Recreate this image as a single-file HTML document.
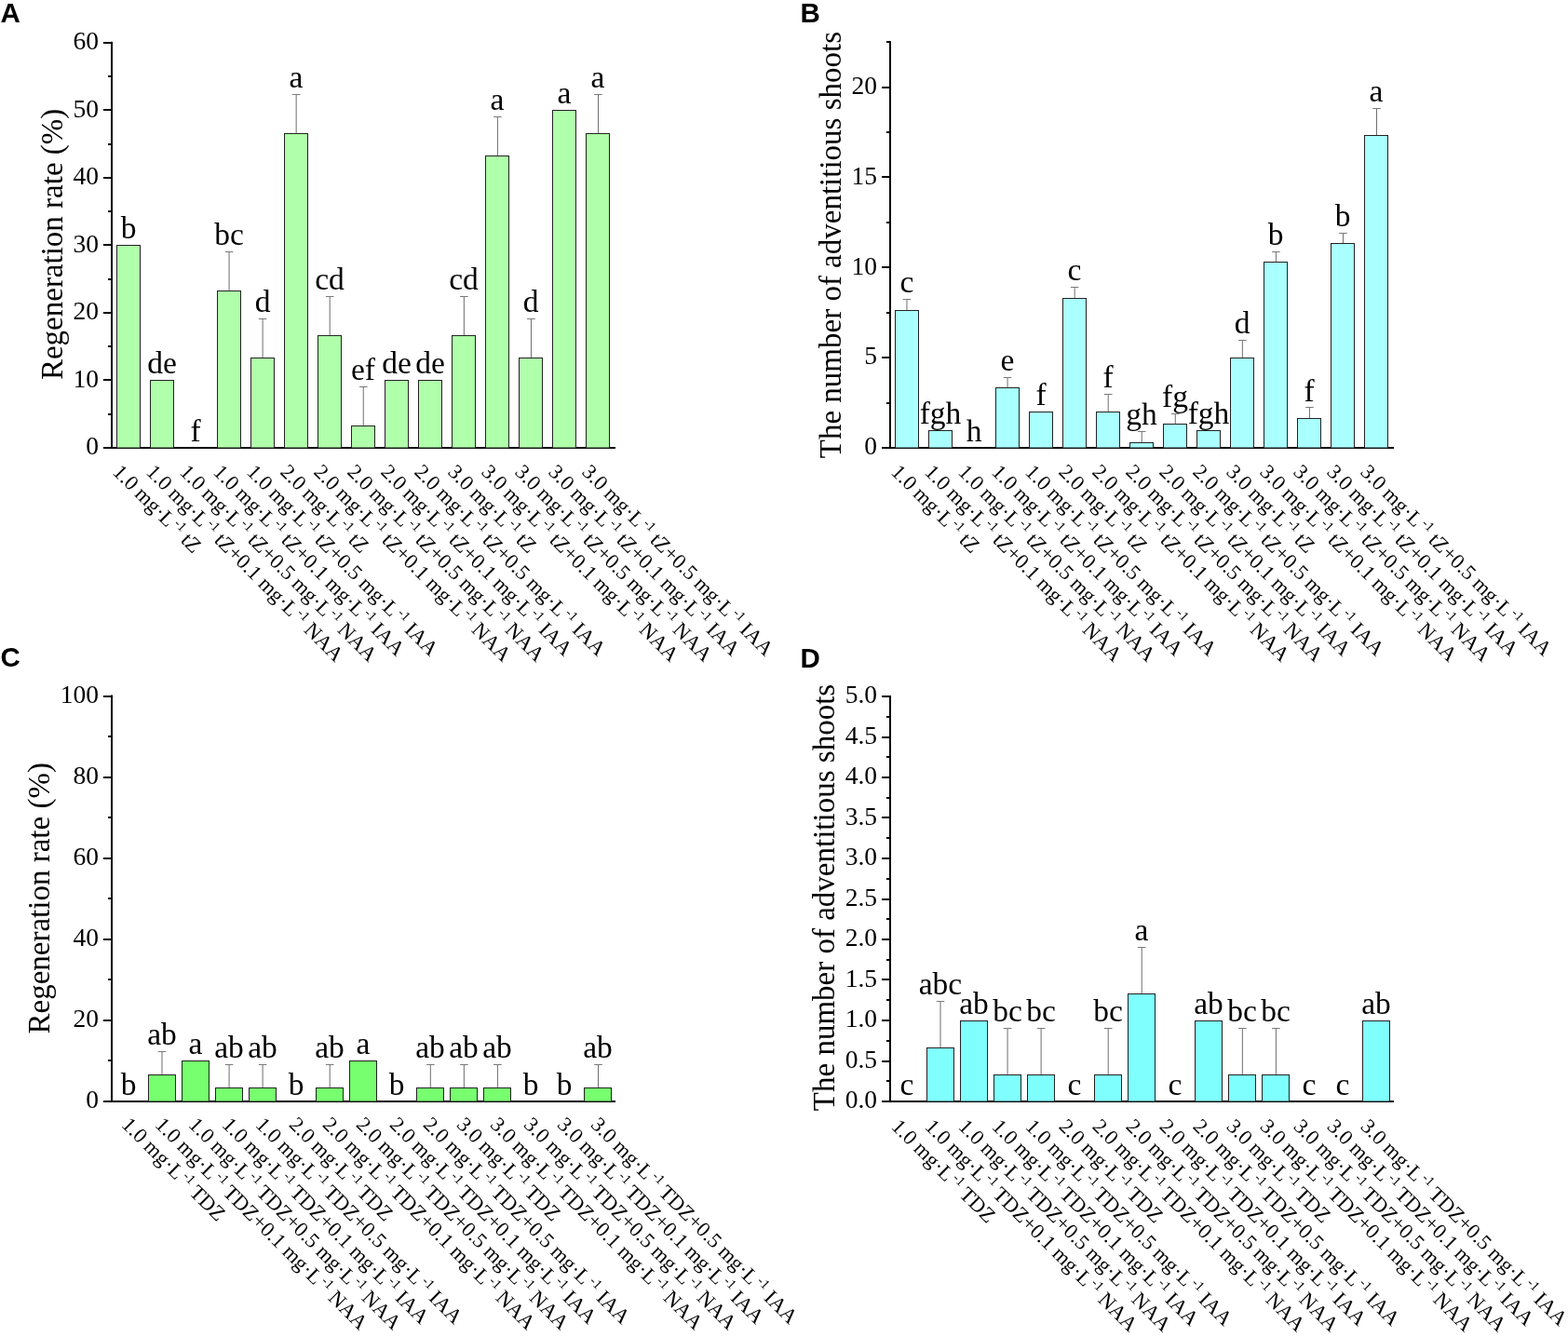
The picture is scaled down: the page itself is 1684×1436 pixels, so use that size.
<!DOCTYPE html>
<html><head><meta charset="utf-8"><style>
html,body{margin:0;padding:0;background:#fff;}
svg{display:block;}
text{font-family:"Liberation Serif","Times New Roman",serif;fill:#000;}
.pl{font-family:"Liberation Sans",Arial,sans-serif;font-weight:bold;font-size:29.5px;}
.tk{font-size:27.5px;text-anchor:end;}
.tt{font-size:33px;text-anchor:middle;}
.lt{font-size:33.5px;text-anchor:middle;}
.xl{font-size:22.5px;}
</style></head><body>
<svg width="1684" height="1436" viewBox="0 0 1684 1436">
<rect width="1684" height="1436" fill="#fff"/>
<text x="0.5" y="24.4" class="pl">A</text>
<rect x="119" y="44.8" width="2" height="437.2" fill="#000"/>
<rect x="111" y="480" width="550" height="2" fill="#000"/>
<rect x="111" y="480" width="9" height="2" fill="#000"/>
<text x="106" y="488.30" class="tk">0</text>
<rect x="111" y="407" width="9" height="2" fill="#000"/>
<text x="106" y="415.77" class="tk">10</text>
<rect x="111" y="335" width="9" height="2" fill="#000"/>
<text x="106" y="343.23" class="tk">20</text>
<rect x="111" y="262" width="9" height="2" fill="#000"/>
<text x="106" y="270.70" class="tk">30</text>
<rect x="111" y="190" width="9" height="2" fill="#000"/>
<text x="106" y="198.17" class="tk">40</text>
<rect x="111" y="117" width="9" height="2" fill="#000"/>
<text x="106" y="125.63" class="tk">50</text>
<rect x="111" y="45" width="9" height="2" fill="#000"/>
<text x="106" y="53.10" class="tk">60</text>
<rect x="116" y="444" width="4" height="2" fill="#000"/>
<rect x="116" y="371" width="4" height="2" fill="#000"/>
<rect x="116" y="299" width="4" height="2" fill="#000"/>
<rect x="116" y="226" width="4" height="2" fill="#000"/>
<rect x="116" y="154" width="4" height="2" fill="#000"/>
<rect x="116" y="81" width="4" height="2" fill="#000"/>
<text transform="translate(66.5,262.4) rotate(-90)" class="tt">Regeneration rate (%)</text>
<rect x="125.5" y="263.5" width="25" height="217.5" fill="#b0ffaa" stroke="#222" stroke-width="1"/>
<text x="138" y="256.40" class="lt">b</text>
<text transform="translate(120,508) rotate(45)" class="xl">1.0 mg·L<tspan dx="2" dy="-8" font-size="14.5">-1</tspan><tspan dy="8"> tZ</tspan></text>
<rect x="161.5" y="408.5" width="25" height="72.5" fill="#b0ffaa" stroke="#222" stroke-width="1"/>
<text x="174" y="401.47" class="lt">de</text>
<text transform="translate(156,508) rotate(45)" class="xl">1.0 mg·L<tspan dx="2" dy="-8" font-size="14.5">-1</tspan><tspan dy="8"> tZ+0.1 mg·L</tspan><tspan dx="2" dy="-8" font-size="14.5">-1</tspan><tspan dy="8"> NAA</tspan></text>
<text x="210" y="474.00" class="lt">f</text>
<text transform="translate(192,508) rotate(45)" class="xl">1.0 mg·L<tspan dx="2" dy="-8" font-size="14.5">-1</tspan><tspan dy="8"> tZ+0.5 mg·L</tspan><tspan dx="2" dy="-8" font-size="14.5">-1</tspan><tspan dy="8"> NAA</tspan></text>
<rect x="233.5" y="312.5" width="25" height="168.5" fill="#b0ffaa" stroke="#222" stroke-width="1"/>
<rect x="245.57" y="270" width="1" height="42" fill="#6e6e6e"/>
<rect x="241.77" y="270" width="8.6" height="1" fill="#7a7a7a"/>
<text x="246" y="262.90" class="lt">bc</text>
<text transform="translate(228,508) rotate(45)" class="xl">1.0 mg·L<tspan dx="2" dy="-8" font-size="14.5">-1</tspan><tspan dy="8"> tZ+0.1 mg·L</tspan><tspan dx="2" dy="-8" font-size="14.5">-1</tspan><tspan dy="8"> IAA</tspan></text>
<rect x="269.5" y="384.5" width="25" height="96.5" fill="#b0ffaa" stroke="#222" stroke-width="1"/>
<rect x="281.61" y="342" width="1" height="42" fill="#6e6e6e"/>
<rect x="277.81" y="342" width="8.6" height="1" fill="#7a7a7a"/>
<text x="282" y="335.44" class="lt">d</text>
<text transform="translate(264,508) rotate(45)" class="xl">1.0 mg·L<tspan dx="2" dy="-8" font-size="14.5">-1</tspan><tspan dy="8"> tZ+0.5 mg·L</tspan><tspan dx="2" dy="-8" font-size="14.5">-1</tspan><tspan dy="8"> IAA</tspan></text>
<rect x="305.5" y="143.5" width="25" height="337.5" fill="#b0ffaa" stroke="#222" stroke-width="1"/>
<rect x="317.65" y="101" width="1" height="42" fill="#6e6e6e"/>
<rect x="313.85" y="101" width="8.6" height="1" fill="#7a7a7a"/>
<text x="318" y="93.66" class="lt">a</text>
<text transform="translate(300,508) rotate(45)" class="xl">2.0 mg·L<tspan dx="2" dy="-8" font-size="14.5">-1</tspan><tspan dy="8"> tZ</tspan></text>
<rect x="341.5" y="360.5" width="25" height="120.5" fill="#b0ffaa" stroke="#222" stroke-width="1"/>
<rect x="353.69" y="318" width="1" height="42" fill="#6e6e6e"/>
<rect x="349.89" y="318" width="8.6" height="1" fill="#7a7a7a"/>
<text x="354" y="311.26" class="lt">cd</text>
<text transform="translate(336,508) rotate(45)" class="xl">2.0 mg·L<tspan dx="2" dy="-8" font-size="14.5">-1</tspan><tspan dy="8"> tZ+0.1 mg·L</tspan><tspan dx="2" dy="-8" font-size="14.5">-1</tspan><tspan dy="8"> NAA</tspan></text>
<rect x="377.5" y="457.5" width="25" height="23.5" fill="#b0ffaa" stroke="#222" stroke-width="1"/>
<rect x="389.73" y="415" width="1" height="42" fill="#6e6e6e"/>
<rect x="385.93" y="415" width="8.6" height="1" fill="#7a7a7a"/>
<text x="390" y="407.97" class="lt">ef</text>
<text transform="translate(372,508) rotate(45)" class="xl">2.0 mg·L<tspan dx="2" dy="-8" font-size="14.5">-1</tspan><tspan dy="8"> tZ+0.5 mg·L</tspan><tspan dx="2" dy="-8" font-size="14.5">-1</tspan><tspan dy="8"> NAA</tspan></text>
<rect x="413.5" y="408.5" width="25" height="72.5" fill="#b0ffaa" stroke="#222" stroke-width="1"/>
<text x="426" y="401.47" class="lt">de</text>
<text transform="translate(408,508) rotate(45)" class="xl">2.0 mg·L<tspan dx="2" dy="-8" font-size="14.5">-1</tspan><tspan dy="8"> tZ+0.1 mg·L</tspan><tspan dx="2" dy="-8" font-size="14.5">-1</tspan><tspan dy="8"> IAA</tspan></text>
<rect x="449.5" y="408.5" width="25" height="72.5" fill="#b0ffaa" stroke="#222" stroke-width="1"/>
<text x="462" y="401.47" class="lt">de</text>
<text transform="translate(444,508) rotate(45)" class="xl">2.0 mg·L<tspan dx="2" dy="-8" font-size="14.5">-1</tspan><tspan dy="8"> tZ+0.5 mg·L</tspan><tspan dx="2" dy="-8" font-size="14.5">-1</tspan><tspan dy="8"> IAA</tspan></text>
<rect x="485.5" y="360.5" width="25" height="120.5" fill="#b0ffaa" stroke="#222" stroke-width="1"/>
<rect x="497.85" y="318" width="1" height="42" fill="#6e6e6e"/>
<rect x="494.05" y="318" width="8.6" height="1" fill="#7a7a7a"/>
<text x="498" y="311.26" class="lt">cd</text>
<text transform="translate(480,508) rotate(45)" class="xl">3.0 mg·L<tspan dx="2" dy="-8" font-size="14.5">-1</tspan><tspan dy="8"> tZ</tspan></text>
<rect x="521.5" y="167.5" width="25" height="313.5" fill="#b0ffaa" stroke="#222" stroke-width="1"/>
<rect x="533.89" y="125" width="1" height="42" fill="#6e6e6e"/>
<rect x="530.09" y="125" width="8.6" height="1" fill="#7a7a7a"/>
<text x="534" y="117.84" class="lt">a</text>
<text transform="translate(516,508) rotate(45)" class="xl">3.0 mg·L<tspan dx="2" dy="-8" font-size="14.5">-1</tspan><tspan dy="8"> tZ+0.1 mg·L</tspan><tspan dx="2" dy="-8" font-size="14.5">-1</tspan><tspan dy="8"> NAA</tspan></text>
<rect x="557.5" y="384.5" width="25" height="96.5" fill="#b0ffaa" stroke="#222" stroke-width="1"/>
<rect x="569.93" y="342" width="1" height="42" fill="#6e6e6e"/>
<rect x="566.13" y="342" width="8.6" height="1" fill="#7a7a7a"/>
<text x="570" y="335.44" class="lt">d</text>
<text transform="translate(552,508) rotate(45)" class="xl">3.0 mg·L<tspan dx="2" dy="-8" font-size="14.5">-1</tspan><tspan dy="8"> tZ+0.5 mg·L</tspan><tspan dx="2" dy="-8" font-size="14.5">-1</tspan><tspan dy="8"> NAA</tspan></text>
<rect x="593.5" y="118.5" width="25" height="362.5" fill="#b0ffaa" stroke="#222" stroke-width="1"/>
<text x="606" y="111.33" class="lt">a</text>
<text transform="translate(588,508) rotate(45)" class="xl">3.0 mg·L<tspan dx="2" dy="-8" font-size="14.5">-1</tspan><tspan dy="8"> tZ+0.1 mg·L</tspan><tspan dx="2" dy="-8" font-size="14.5">-1</tspan><tspan dy="8"> IAA</tspan></text>
<rect x="629.5" y="143.5" width="25" height="337.5" fill="#b0ffaa" stroke="#222" stroke-width="1"/>
<rect x="642.01" y="101" width="1" height="42" fill="#6e6e6e"/>
<rect x="638.21" y="101" width="8.6" height="1" fill="#7a7a7a"/>
<text x="642" y="93.66" class="lt">a</text>
<text transform="translate(624,508) rotate(45)" class="xl">3.0 mg·L<tspan dx="2" dy="-8" font-size="14.5">-1</tspan><tspan dy="8"> tZ+0.5 mg·L</tspan><tspan dx="2" dy="-8" font-size="14.5">-1</tspan><tspan dy="8"> IAA</tspan></text>
<text x="859.5" y="24.4" class="pl">B</text>
<rect x="955" y="44.2" width="2" height="437.8" fill="#000"/>
<rect x="947" y="480" width="550" height="2" fill="#000"/>
<rect x="947" y="480" width="9" height="2" fill="#000"/>
<text x="942" y="488.30" class="tk">0</text>
<rect x="947" y="383" width="9" height="2" fill="#000"/>
<text x="942" y="391.46" class="tk">5</text>
<rect x="947" y="286" width="9" height="2" fill="#000"/>
<text x="942" y="294.61" class="tk">10</text>
<rect x="947" y="189" width="9" height="2" fill="#000"/>
<text x="942" y="197.77" class="tk">15</text>
<rect x="947" y="93" width="9" height="2" fill="#000"/>
<text x="942" y="100.92" class="tk">20</text>
<rect x="952" y="432" width="4" height="2" fill="#000"/>
<rect x="952" y="335" width="4" height="2" fill="#000"/>
<rect x="952" y="238" width="4" height="2" fill="#000"/>
<rect x="952" y="141" width="4" height="2" fill="#000"/>
<rect x="952" y="44" width="4" height="2" fill="#000"/>
<text transform="translate(902.5,263.1) rotate(-90)" class="tt">The number of adventitious shoots</text>
<rect x="961.5" y="333.5" width="25" height="147.5" fill="#aaffff" stroke="#222" stroke-width="1"/>
<rect x="973.45" y="321" width="1" height="12" fill="#6e6e6e"/>
<rect x="969.65" y="321" width="8.6" height="1" fill="#7a7a7a"/>
<text x="974" y="314.33" class="lt">c</text>
<text transform="translate(956,508) rotate(45)" class="xl">1.0 mg·L<tspan dx="2" dy="-8" font-size="14.5">-1</tspan><tspan dy="8"> tZ</tspan></text>
<rect x="997.5" y="462.5" width="25" height="18.5" fill="#aaffff" stroke="#222" stroke-width="1"/>
<text x="1010" y="454.63" class="lt">fgh</text>
<text transform="translate(992,508) rotate(45)" class="xl">1.0 mg·L<tspan dx="2" dy="-8" font-size="14.5">-1</tspan><tspan dy="8"> tZ+0.1 mg·L</tspan><tspan dx="2" dy="-8" font-size="14.5">-1</tspan><tspan dy="8"> NAA</tspan></text>
<text x="1046" y="474.00" class="lt">h</text>
<text transform="translate(1028,508) rotate(45)" class="xl">1.0 mg·L<tspan dx="2" dy="-8" font-size="14.5">-1</tspan><tspan dy="8"> tZ+0.5 mg·L</tspan><tspan dx="2" dy="-8" font-size="14.5">-1</tspan><tspan dy="8"> NAA</tspan></text>
<rect x="1069.5" y="416.5" width="25" height="64.5" fill="#aaffff" stroke="#222" stroke-width="1"/>
<rect x="1081.57" y="405" width="1" height="11" fill="#6e6e6e"/>
<rect x="1077.77" y="405" width="8.6" height="1" fill="#7a7a7a"/>
<text x="1082" y="398.26" class="lt">e</text>
<text transform="translate(1064,508) rotate(45)" class="xl">1.0 mg·L<tspan dx="2" dy="-8" font-size="14.5">-1</tspan><tspan dy="8"> tZ+0.1 mg·L</tspan><tspan dx="2" dy="-8" font-size="14.5">-1</tspan><tspan dy="8"> IAA</tspan></text>
<rect x="1105.5" y="442.5" width="25" height="38.5" fill="#aaffff" stroke="#222" stroke-width="1"/>
<text x="1118" y="435.26" class="lt">f</text>
<text transform="translate(1100,508) rotate(45)" class="xl">1.0 mg·L<tspan dx="2" dy="-8" font-size="14.5">-1</tspan><tspan dy="8"> tZ+0.5 mg·L</tspan><tspan dx="2" dy="-8" font-size="14.5">-1</tspan><tspan dy="8"> IAA</tspan></text>
<rect x="1141.5" y="320.5" width="25" height="160.5" fill="#aaffff" stroke="#222" stroke-width="1"/>
<rect x="1153.65" y="308" width="1" height="12" fill="#6e6e6e"/>
<rect x="1149.85" y="308" width="8.6" height="1" fill="#7a7a7a"/>
<text x="1154" y="301.42" class="lt">c</text>
<text transform="translate(1136,508) rotate(45)" class="xl">2.0 mg·L<tspan dx="2" dy="-8" font-size="14.5">-1</tspan><tspan dy="8"> tZ</tspan></text>
<rect x="1177.5" y="442.5" width="25" height="38.5" fill="#aaffff" stroke="#222" stroke-width="1"/>
<rect x="1189.69" y="423" width="1" height="19" fill="#6e6e6e"/>
<rect x="1185.89" y="423" width="8.6" height="1" fill="#7a7a7a"/>
<text x="1190" y="415.89" class="lt">f</text>
<text transform="translate(1172,508) rotate(45)" class="xl">2.0 mg·L<tspan dx="2" dy="-8" font-size="14.5">-1</tspan><tspan dy="8"> tZ+0.1 mg·L</tspan><tspan dx="2" dy="-8" font-size="14.5">-1</tspan><tspan dy="8"> NAA</tspan></text>
<rect x="1213.5" y="475.5" width="25" height="5.5" fill="#aaffff" stroke="#222" stroke-width="1"/>
<rect x="1225.73" y="463" width="1" height="12" fill="#6e6e6e"/>
<rect x="1221.93" y="463" width="8.6" height="1" fill="#7a7a7a"/>
<text x="1226" y="456.37" class="lt">gh</text>
<text transform="translate(1208,508) rotate(45)" class="xl">2.0 mg·L<tspan dx="2" dy="-8" font-size="14.5">-1</tspan><tspan dy="8"> tZ+0.5 mg·L</tspan><tspan dx="2" dy="-8" font-size="14.5">-1</tspan><tspan dy="8"> NAA</tspan></text>
<rect x="1249.5" y="455.5" width="25" height="25.5" fill="#aaffff" stroke="#222" stroke-width="1"/>
<rect x="1261.77" y="444" width="1" height="11" fill="#6e6e6e"/>
<rect x="1257.97" y="444" width="8.6" height="1" fill="#7a7a7a"/>
<text x="1262" y="437.00" class="lt">fg</text>
<text transform="translate(1244,508) rotate(45)" class="xl">2.0 mg·L<tspan dx="2" dy="-8" font-size="14.5">-1</tspan><tspan dy="8"> tZ+0.1 mg·L</tspan><tspan dx="2" dy="-8" font-size="14.5">-1</tspan><tspan dy="8"> IAA</tspan></text>
<rect x="1285.5" y="462.5" width="25" height="18.5" fill="#aaffff" stroke="#222" stroke-width="1"/>
<text x="1298" y="454.63" class="lt">fgh</text>
<text transform="translate(1280,508) rotate(45)" class="xl">2.0 mg·L<tspan dx="2" dy="-8" font-size="14.5">-1</tspan><tspan dy="8"> tZ+0.5 mg·L</tspan><tspan dx="2" dy="-8" font-size="14.5">-1</tspan><tspan dy="8"> IAA</tspan></text>
<rect x="1321.5" y="384.5" width="25" height="96.5" fill="#aaffff" stroke="#222" stroke-width="1"/>
<rect x="1333.85" y="365" width="1" height="19" fill="#6e6e6e"/>
<rect x="1330.05" y="365" width="8.6" height="1" fill="#7a7a7a"/>
<text x="1334" y="357.79" class="lt">d</text>
<text transform="translate(1316,508) rotate(45)" class="xl">3.0 mg·L<tspan dx="2" dy="-8" font-size="14.5">-1</tspan><tspan dy="8"> tZ</tspan></text>
<rect x="1357.5" y="281.5" width="25" height="199.5" fill="#aaffff" stroke="#222" stroke-width="1"/>
<rect x="1369.89" y="270" width="1" height="11" fill="#6e6e6e"/>
<rect x="1366.09" y="270" width="8.6" height="1" fill="#7a7a7a"/>
<text x="1370" y="262.68" class="lt">b</text>
<text transform="translate(1352,508) rotate(45)" class="xl">3.0 mg·L<tspan dx="2" dy="-8" font-size="14.5">-1</tspan><tspan dy="8"> tZ+0.1 mg·L</tspan><tspan dx="2" dy="-8" font-size="14.5">-1</tspan><tspan dy="8"> NAA</tspan></text>
<rect x="1393.5" y="449.5" width="25" height="31.5" fill="#aaffff" stroke="#222" stroke-width="1"/>
<rect x="1405.93" y="437" width="1" height="12" fill="#6e6e6e"/>
<rect x="1402.13" y="437" width="8.6" height="1" fill="#7a7a7a"/>
<text x="1406" y="430.54" class="lt">f</text>
<text transform="translate(1388,508) rotate(45)" class="xl">3.0 mg·L<tspan dx="2" dy="-8" font-size="14.5">-1</tspan><tspan dy="8"> tZ+0.5 mg·L</tspan><tspan dx="2" dy="-8" font-size="14.5">-1</tspan><tspan dy="8"> NAA</tspan></text>
<rect x="1429.5" y="261.5" width="25" height="219.5" fill="#aaffff" stroke="#222" stroke-width="1"/>
<rect x="1441.97" y="250" width="1" height="11" fill="#6e6e6e"/>
<rect x="1438.17" y="250" width="8.6" height="1" fill="#7a7a7a"/>
<text x="1442" y="243.31" class="lt">b</text>
<text transform="translate(1424,508) rotate(45)" class="xl">3.0 mg·L<tspan dx="2" dy="-8" font-size="14.5">-1</tspan><tspan dy="8"> tZ+0.1 mg·L</tspan><tspan dx="2" dy="-8" font-size="14.5">-1</tspan><tspan dy="8"> IAA</tspan></text>
<rect x="1465.5" y="145.5" width="25" height="335.5" fill="#aaffff" stroke="#222" stroke-width="1"/>
<rect x="1478.01" y="116" width="1" height="29" fill="#6e6e6e"/>
<rect x="1474.21" y="116" width="8.6" height="1" fill="#7a7a7a"/>
<text x="1478" y="108.68" class="lt">a</text>
<text transform="translate(1460,508) rotate(45)" class="xl">3.0 mg·L<tspan dx="2" dy="-8" font-size="14.5">-1</tspan><tspan dy="8"> tZ+0.5 mg·L</tspan><tspan dx="2" dy="-8" font-size="14.5">-1</tspan><tspan dy="8"> IAA</tspan></text>
<text x="0.5" y="715.5" class="pl">C</text>
<rect x="119" y="746.5" width="2" height="437.5" fill="#000"/>
<rect x="111" y="1182" width="550" height="2" fill="#000"/>
<rect x="111" y="1182" width="9" height="2" fill="#000"/>
<text x="106" y="1190.30" class="tk">0</text>
<rect x="111" y="1095" width="9" height="2" fill="#000"/>
<text x="106" y="1103.20" class="tk">20</text>
<rect x="111" y="1008" width="9" height="2" fill="#000"/>
<text x="106" y="1016.10" class="tk">40</text>
<rect x="111" y="921" width="9" height="2" fill="#000"/>
<text x="106" y="929.00" class="tk">60</text>
<rect x="111" y="834" width="9" height="2" fill="#000"/>
<text x="106" y="841.90" class="tk">80</text>
<rect x="111" y="747" width="9" height="2" fill="#000"/>
<text x="106" y="754.80" class="tk">100</text>
<rect x="116" y="1138" width="4" height="2" fill="#000"/>
<rect x="116" y="1051" width="4" height="2" fill="#000"/>
<rect x="116" y="964" width="4" height="2" fill="#000"/>
<rect x="116" y="877" width="4" height="2" fill="#000"/>
<rect x="116" y="790" width="4" height="2" fill="#000"/>
<text transform="translate(52.5,964.8) rotate(-90)" class="tt">Regeneration rate (%)</text>
<text x="138" y="1176.00" class="lt">b</text>
<text transform="translate(129.5,1209) rotate(45)" class="xl">1.0 mg·L<tspan dx="2" dy="-8" font-size="14.5">-1</tspan><tspan dy="8"> TDZ</tspan></text>
<rect x="159.5" y="1154.5" width="29" height="28.5" fill="#78ff70" stroke="#222" stroke-width="1"/>
<rect x="173.49" y="1129" width="1" height="25" fill="#6e6e6e"/>
<rect x="169.69" y="1129" width="8.6" height="1" fill="#7a7a7a"/>
<text x="174" y="1121.84" class="lt">ab</text>
<text transform="translate(165.5,1209) rotate(45)" class="xl">1.0 mg·L<tspan dx="2" dy="-8" font-size="14.5">-1</tspan><tspan dy="8"> TDZ+0.1 mg·L</tspan><tspan dx="2" dy="-8" font-size="14.5">-1</tspan><tspan dy="8"> NAA</tspan></text>
<rect x="195.5" y="1139.5" width="29" height="43.5" fill="#78ff70" stroke="#222" stroke-width="1"/>
<text x="210" y="1132.45" class="lt">a</text>
<text transform="translate(201.5,1209) rotate(45)" class="xl">1.0 mg·L<tspan dx="2" dy="-8" font-size="14.5">-1</tspan><tspan dy="8"> TDZ+0.5 mg·L</tspan><tspan dx="2" dy="-8" font-size="14.5">-1</tspan><tspan dy="8"> NAA</tspan></text>
<rect x="231.5" y="1168.5" width="29" height="14.5" fill="#78ff70" stroke="#222" stroke-width="1"/>
<rect x="245.57" y="1143" width="1" height="25" fill="#6e6e6e"/>
<rect x="241.77" y="1143" width="8.6" height="1" fill="#7a7a7a"/>
<text x="246" y="1136.35" class="lt">ab</text>
<text transform="translate(237.5,1209) rotate(45)" class="xl">1.0 mg·L<tspan dx="2" dy="-8" font-size="14.5">-1</tspan><tspan dy="8"> TDZ+0.1 mg·L</tspan><tspan dx="2" dy="-8" font-size="14.5">-1</tspan><tspan dy="8"> IAA</tspan></text>
<rect x="267.5" y="1168.5" width="29" height="14.5" fill="#78ff70" stroke="#222" stroke-width="1"/>
<rect x="281.61" y="1143" width="1" height="25" fill="#6e6e6e"/>
<rect x="277.81" y="1143" width="8.6" height="1" fill="#7a7a7a"/>
<text x="282" y="1136.35" class="lt">ab</text>
<text transform="translate(273.5,1209) rotate(45)" class="xl">1.0 mg·L<tspan dx="2" dy="-8" font-size="14.5">-1</tspan><tspan dy="8"> TDZ+0.5 mg·L</tspan><tspan dx="2" dy="-8" font-size="14.5">-1</tspan><tspan dy="8"> IAA</tspan></text>
<text x="318" y="1176.00" class="lt">b</text>
<text transform="translate(309.5,1209) rotate(45)" class="xl">2.0 mg·L<tspan dx="2" dy="-8" font-size="14.5">-1</tspan><tspan dy="8"> TDZ</tspan></text>
<rect x="339.5" y="1168.5" width="29" height="14.5" fill="#78ff70" stroke="#222" stroke-width="1"/>
<rect x="353.69" y="1143" width="1" height="25" fill="#6e6e6e"/>
<rect x="349.89" y="1143" width="8.6" height="1" fill="#7a7a7a"/>
<text x="354" y="1136.35" class="lt">ab</text>
<text transform="translate(345.5,1209) rotate(45)" class="xl">2.0 mg·L<tspan dx="2" dy="-8" font-size="14.5">-1</tspan><tspan dy="8"> TDZ+0.1 mg·L</tspan><tspan dx="2" dy="-8" font-size="14.5">-1</tspan><tspan dy="8"> NAA</tspan></text>
<rect x="375.5" y="1139.5" width="29" height="43.5" fill="#78ff70" stroke="#222" stroke-width="1"/>
<text x="390" y="1132.45" class="lt">a</text>
<text transform="translate(381.5,1209) rotate(45)" class="xl">2.0 mg·L<tspan dx="2" dy="-8" font-size="14.5">-1</tspan><tspan dy="8"> TDZ+0.5 mg·L</tspan><tspan dx="2" dy="-8" font-size="14.5">-1</tspan><tspan dy="8"> NAA</tspan></text>
<text x="426" y="1176.00" class="lt">b</text>
<text transform="translate(417.5,1209) rotate(45)" class="xl">2.0 mg·L<tspan dx="2" dy="-8" font-size="14.5">-1</tspan><tspan dy="8"> TDZ+0.1 mg·L</tspan><tspan dx="2" dy="-8" font-size="14.5">-1</tspan><tspan dy="8"> IAA</tspan></text>
<rect x="447.5" y="1168.5" width="29" height="14.5" fill="#78ff70" stroke="#222" stroke-width="1"/>
<rect x="461.81" y="1143" width="1" height="25" fill="#6e6e6e"/>
<rect x="458.01" y="1143" width="8.6" height="1" fill="#7a7a7a"/>
<text x="462" y="1136.35" class="lt">ab</text>
<text transform="translate(453.5,1209) rotate(45)" class="xl">2.0 mg·L<tspan dx="2" dy="-8" font-size="14.5">-1</tspan><tspan dy="8"> TDZ+0.5 mg·L</tspan><tspan dx="2" dy="-8" font-size="14.5">-1</tspan><tspan dy="8"> IAA</tspan></text>
<rect x="483.5" y="1168.5" width="29" height="14.5" fill="#78ff70" stroke="#222" stroke-width="1"/>
<rect x="497.85" y="1143" width="1" height="25" fill="#6e6e6e"/>
<rect x="494.05" y="1143" width="8.6" height="1" fill="#7a7a7a"/>
<text x="498" y="1136.35" class="lt">ab</text>
<text transform="translate(489.5,1209) rotate(45)" class="xl">3.0 mg·L<tspan dx="2" dy="-8" font-size="14.5">-1</tspan><tspan dy="8"> TDZ</tspan></text>
<rect x="519.5" y="1168.5" width="29" height="14.5" fill="#78ff70" stroke="#222" stroke-width="1"/>
<rect x="533.89" y="1143" width="1" height="25" fill="#6e6e6e"/>
<rect x="530.09" y="1143" width="8.6" height="1" fill="#7a7a7a"/>
<text x="534" y="1136.35" class="lt">ab</text>
<text transform="translate(525.5,1209) rotate(45)" class="xl">3.0 mg·L<tspan dx="2" dy="-8" font-size="14.5">-1</tspan><tspan dy="8"> TDZ+0.1 mg·L</tspan><tspan dx="2" dy="-8" font-size="14.5">-1</tspan><tspan dy="8"> NAA</tspan></text>
<text x="570" y="1176.00" class="lt">b</text>
<text transform="translate(561.5,1209) rotate(45)" class="xl">3.0 mg·L<tspan dx="2" dy="-8" font-size="14.5">-1</tspan><tspan dy="8"> TDZ+0.5 mg·L</tspan><tspan dx="2" dy="-8" font-size="14.5">-1</tspan><tspan dy="8"> NAA</tspan></text>
<text x="606" y="1176.00" class="lt">b</text>
<text transform="translate(597.5,1209) rotate(45)" class="xl">3.0 mg·L<tspan dx="2" dy="-8" font-size="14.5">-1</tspan><tspan dy="8"> TDZ+0.1 mg·L</tspan><tspan dx="2" dy="-8" font-size="14.5">-1</tspan><tspan dy="8"> IAA</tspan></text>
<rect x="627.5" y="1168.5" width="29" height="14.5" fill="#78ff70" stroke="#222" stroke-width="1"/>
<rect x="642.01" y="1143" width="1" height="25" fill="#6e6e6e"/>
<rect x="638.21" y="1143" width="8.6" height="1" fill="#7a7a7a"/>
<text x="642" y="1136.35" class="lt">ab</text>
<text transform="translate(633.5,1209) rotate(45)" class="xl">3.0 mg·L<tspan dx="2" dy="-8" font-size="14.5">-1</tspan><tspan dy="8"> TDZ+0.5 mg·L</tspan><tspan dx="2" dy="-8" font-size="14.5">-1</tspan><tspan dy="8"> IAA</tspan></text>
<text x="859.5" y="716.5" class="pl">D</text>
<rect x="955" y="747" width="2" height="437" fill="#000"/>
<rect x="947" y="1182" width="550" height="2" fill="#000"/>
<rect x="947" y="1182" width="9" height="2" fill="#000"/>
<text x="942" y="1190.30" class="tk">0.0</text>
<rect x="947" y="1139" width="9" height="2" fill="#000"/>
<text x="942" y="1146.80" class="tk">0.5</text>
<rect x="947" y="1095" width="9" height="2" fill="#000"/>
<text x="942" y="1103.30" class="tk">1.0</text>
<rect x="947" y="1051" width="9" height="2" fill="#000"/>
<text x="942" y="1059.80" class="tk">1.5</text>
<rect x="947" y="1008" width="9" height="2" fill="#000"/>
<text x="942" y="1016.30" class="tk">2.0</text>
<rect x="947" y="965" width="9" height="2" fill="#000"/>
<text x="942" y="972.80" class="tk">2.5</text>
<rect x="947" y="921" width="9" height="2" fill="#000"/>
<text x="942" y="929.30" class="tk">3.0</text>
<rect x="947" y="877" width="9" height="2" fill="#000"/>
<text x="942" y="885.80" class="tk">3.5</text>
<rect x="947" y="834" width="9" height="2" fill="#000"/>
<text x="942" y="842.30" class="tk">4.0</text>
<rect x="947" y="791" width="9" height="2" fill="#000"/>
<text x="942" y="798.80" class="tk">4.5</text>
<rect x="947" y="747" width="9" height="2" fill="#000"/>
<text x="942" y="755.30" class="tk">5.0</text>
<rect x="952" y="1160" width="4" height="2" fill="#000"/>
<rect x="952" y="1117" width="4" height="2" fill="#000"/>
<rect x="952" y="1073" width="4" height="2" fill="#000"/>
<rect x="952" y="1030" width="4" height="2" fill="#000"/>
<rect x="952" y="986" width="4" height="2" fill="#000"/>
<rect x="952" y="943" width="4" height="2" fill="#000"/>
<rect x="952" y="899" width="4" height="2" fill="#000"/>
<rect x="952" y="856" width="4" height="2" fill="#000"/>
<rect x="952" y="812" width="4" height="2" fill="#000"/>
<rect x="952" y="769" width="4" height="2" fill="#000"/>
<text transform="translate(896,964.0) rotate(-90)" class="tt">The number of adventitious shoots</text>
<text x="974" y="1176.00" class="lt">c</text>
<text transform="translate(956.3,1211) rotate(45)" class="xl">1.0 mg·L<tspan dx="2" dy="-8" font-size="14.5">-1</tspan><tspan dy="8"> TDZ</tspan></text>
<rect x="995.5" y="1125.5" width="29" height="57.5" fill="#80ffff" stroke="#222" stroke-width="1"/>
<rect x="1009.49" y="1075" width="1" height="50" fill="#6e6e6e"/>
<rect x="1005.69" y="1075" width="8.6" height="1" fill="#7a7a7a"/>
<text x="1010" y="1067.80" class="lt">abc</text>
<text transform="translate(992.3,1211) rotate(45)" class="xl">1.0 mg·L<tspan dx="2" dy="-8" font-size="14.5">-1</tspan><tspan dy="8"> TDZ+0.1 mg·L</tspan><tspan dx="2" dy="-8" font-size="14.5">-1</tspan><tspan dy="8"> NAA</tspan></text>
<rect x="1031.5" y="1096.5" width="29" height="86.5" fill="#80ffff" stroke="#222" stroke-width="1"/>
<text x="1046" y="1089.00" class="lt">ab</text>
<text transform="translate(1028.3,1211) rotate(45)" class="xl">1.0 mg·L<tspan dx="2" dy="-8" font-size="14.5">-1</tspan><tspan dy="8"> TDZ+0.5 mg·L</tspan><tspan dx="2" dy="-8" font-size="14.5">-1</tspan><tspan dy="8"> NAA</tspan></text>
<rect x="1067.5" y="1154.5" width="29" height="28.5" fill="#80ffff" stroke="#222" stroke-width="1"/>
<rect x="1081.57" y="1104" width="1" height="50" fill="#6e6e6e"/>
<rect x="1077.77" y="1104" width="8.6" height="1" fill="#7a7a7a"/>
<text x="1082" y="1096.80" class="lt">bc</text>
<text transform="translate(1064.3,1211) rotate(45)" class="xl">1.0 mg·L<tspan dx="2" dy="-8" font-size="14.5">-1</tspan><tspan dy="8"> TDZ+0.1 mg·L</tspan><tspan dx="2" dy="-8" font-size="14.5">-1</tspan><tspan dy="8"> IAA</tspan></text>
<rect x="1103.5" y="1154.5" width="29" height="28.5" fill="#80ffff" stroke="#222" stroke-width="1"/>
<rect x="1117.61" y="1104" width="1" height="50" fill="#6e6e6e"/>
<rect x="1113.81" y="1104" width="8.6" height="1" fill="#7a7a7a"/>
<text x="1118" y="1096.80" class="lt">bc</text>
<text transform="translate(1100.3,1211) rotate(45)" class="xl">1.0 mg·L<tspan dx="2" dy="-8" font-size="14.5">-1</tspan><tspan dy="8"> TDZ+0.5 mg·L</tspan><tspan dx="2" dy="-8" font-size="14.5">-1</tspan><tspan dy="8"> IAA</tspan></text>
<text x="1154" y="1176.00" class="lt">c</text>
<text transform="translate(1136.3,1211) rotate(45)" class="xl">2.0 mg·L<tspan dx="2" dy="-8" font-size="14.5">-1</tspan><tspan dy="8"> TDZ</tspan></text>
<rect x="1175.5" y="1154.5" width="29" height="28.5" fill="#80ffff" stroke="#222" stroke-width="1"/>
<rect x="1189.69" y="1104" width="1" height="50" fill="#6e6e6e"/>
<rect x="1185.89" y="1104" width="8.6" height="1" fill="#7a7a7a"/>
<text x="1190" y="1096.80" class="lt">bc</text>
<text transform="translate(1172.3,1211) rotate(45)" class="xl">2.0 mg·L<tspan dx="2" dy="-8" font-size="14.5">-1</tspan><tspan dy="8"> TDZ+0.1 mg·L</tspan><tspan dx="2" dy="-8" font-size="14.5">-1</tspan><tspan dy="8"> NAA</tspan></text>
<rect x="1211.5" y="1067.5" width="29" height="115.5" fill="#80ffff" stroke="#222" stroke-width="1"/>
<rect x="1225.73" y="1017" width="1" height="50" fill="#6e6e6e"/>
<rect x="1221.93" y="1017" width="8.6" height="1" fill="#7a7a7a"/>
<text x="1226" y="1009.80" class="lt">a</text>
<text transform="translate(1208.3,1211) rotate(45)" class="xl">2.0 mg·L<tspan dx="2" dy="-8" font-size="14.5">-1</tspan><tspan dy="8"> TDZ+0.5 mg·L</tspan><tspan dx="2" dy="-8" font-size="14.5">-1</tspan><tspan dy="8"> NAA</tspan></text>
<text x="1262" y="1176.00" class="lt">c</text>
<text transform="translate(1244.3,1211) rotate(45)" class="xl">2.0 mg·L<tspan dx="2" dy="-8" font-size="14.5">-1</tspan><tspan dy="8"> TDZ+0.1 mg·L</tspan><tspan dx="2" dy="-8" font-size="14.5">-1</tspan><tspan dy="8"> IAA</tspan></text>
<rect x="1283.5" y="1096.5" width="29" height="86.5" fill="#80ffff" stroke="#222" stroke-width="1"/>
<text x="1298" y="1089.00" class="lt">ab</text>
<text transform="translate(1280.3,1211) rotate(45)" class="xl">2.0 mg·L<tspan dx="2" dy="-8" font-size="14.5">-1</tspan><tspan dy="8"> TDZ+0.5 mg·L</tspan><tspan dx="2" dy="-8" font-size="14.5">-1</tspan><tspan dy="8"> IAA</tspan></text>
<rect x="1319.5" y="1154.5" width="29" height="28.5" fill="#80ffff" stroke="#222" stroke-width="1"/>
<rect x="1333.85" y="1104" width="1" height="50" fill="#6e6e6e"/>
<rect x="1330.05" y="1104" width="8.6" height="1" fill="#7a7a7a"/>
<text x="1334" y="1096.80" class="lt">bc</text>
<text transform="translate(1316.3,1211) rotate(45)" class="xl">3.0 mg·L<tspan dx="2" dy="-8" font-size="14.5">-1</tspan><tspan dy="8"> TDZ</tspan></text>
<rect x="1355.5" y="1154.5" width="29" height="28.5" fill="#80ffff" stroke="#222" stroke-width="1"/>
<rect x="1369.89" y="1104" width="1" height="50" fill="#6e6e6e"/>
<rect x="1366.09" y="1104" width="8.6" height="1" fill="#7a7a7a"/>
<text x="1370" y="1096.80" class="lt">bc</text>
<text transform="translate(1352.3,1211) rotate(45)" class="xl">3.0 mg·L<tspan dx="2" dy="-8" font-size="14.5">-1</tspan><tspan dy="8"> TDZ+0.1 mg·L</tspan><tspan dx="2" dy="-8" font-size="14.5">-1</tspan><tspan dy="8"> NAA</tspan></text>
<text x="1406" y="1176.00" class="lt">c</text>
<text transform="translate(1388.3,1211) rotate(45)" class="xl">3.0 mg·L<tspan dx="2" dy="-8" font-size="14.5">-1</tspan><tspan dy="8"> TDZ+0.5 mg·L</tspan><tspan dx="2" dy="-8" font-size="14.5">-1</tspan><tspan dy="8"> NAA</tspan></text>
<text x="1442" y="1176.00" class="lt">c</text>
<text transform="translate(1424.3,1211) rotate(45)" class="xl">3.0 mg·L<tspan dx="2" dy="-8" font-size="14.5">-1</tspan><tspan dy="8"> TDZ+0.1 mg·L</tspan><tspan dx="2" dy="-8" font-size="14.5">-1</tspan><tspan dy="8"> IAA</tspan></text>
<rect x="1463.5" y="1096.5" width="29" height="86.5" fill="#80ffff" stroke="#222" stroke-width="1"/>
<text x="1478" y="1089.00" class="lt">ab</text>
<text transform="translate(1460.3,1211) rotate(45)" class="xl">3.0 mg·L<tspan dx="2" dy="-8" font-size="14.5">-1</tspan><tspan dy="8"> TDZ+0.5 mg·L</tspan><tspan dx="2" dy="-8" font-size="14.5">-1</tspan><tspan dy="8"> IAA</tspan></text>
</svg></body></html>
